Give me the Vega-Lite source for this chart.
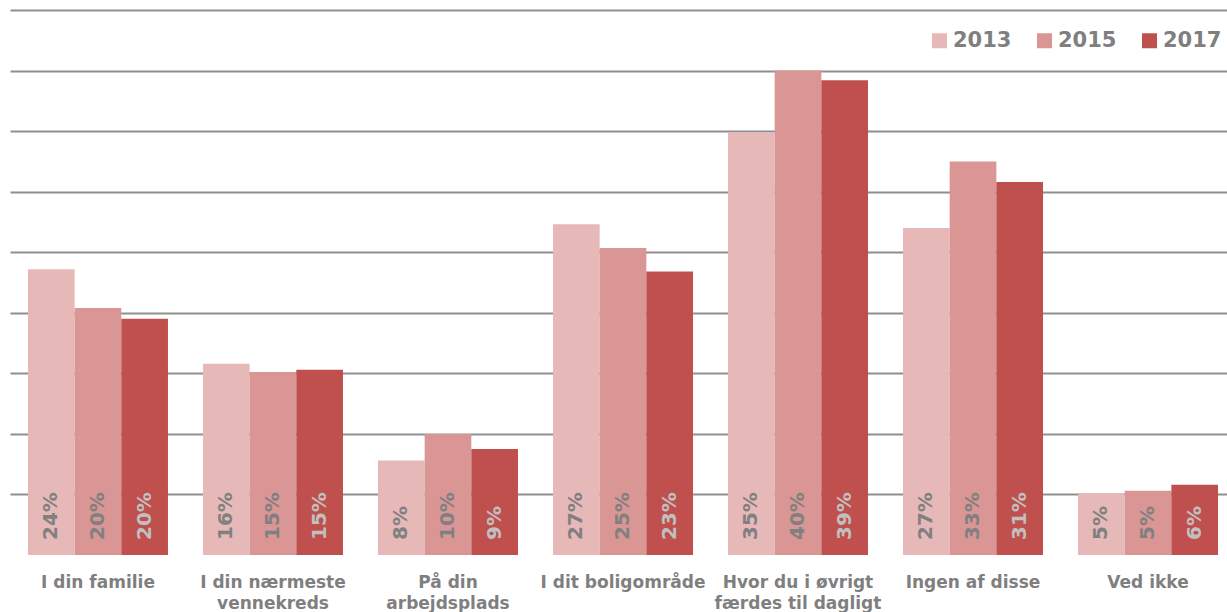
{
  "$schema": "https://vega.github.io/schema/vega-lite/v6.json",
  "width": 1217,
  "height": 545,
  "autosize": {"type": "none"},
  "padding": {"left": 10, "top": 10, "right": 0, "bottom": 57},
  "background": "white",
  "config": {
    "view": {"stroke": null},
    "font": "DejaVu Sans"
  },
  "data": {
    "values": [
      {"cat": "I din familie", "year": "2013", "v": 0.236},
      {"cat": "I din familie", "year": "2015", "v": 0.204},
      {"cat": "I din familie", "year": "2017", "v": 0.195},
      {"cat": "I din nærmeste vennekreds", "year": "2013", "v": 0.158},
      {"cat": "I din nærmeste vennekreds", "year": "2015", "v": 0.151},
      {"cat": "I din nærmeste vennekreds", "year": "2017", "v": 0.153},
      {"cat": "På din arbejdsplads", "year": "2013", "v": 0.078},
      {"cat": "På din arbejdsplads", "year": "2015", "v": 0.100},
      {"cat": "På din arbejdsplads", "year": "2017", "v": 0.0875},
      {"cat": "I dit boligområde", "year": "2013", "v": 0.273},
      {"cat": "I dit boligområde", "year": "2015", "v": 0.2535},
      {"cat": "I dit boligområde", "year": "2017", "v": 0.234},
      {"cat": "Hvor du i øvrigt færdes til dagligt", "year": "2013", "v": 0.349},
      {"cat": "Hvor du i øvrigt færdes til dagligt", "year": "2015", "v": 0.400},
      {"cat": "Hvor du i øvrigt færdes til dagligt", "year": "2017", "v": 0.392},
      {"cat": "Ingen af disse", "year": "2013", "v": 0.270},
      {"cat": "Ingen af disse", "year": "2015", "v": 0.325},
      {"cat": "Ingen af disse", "year": "2017", "v": 0.308},
      {"cat": "Ved ikke", "year": "2013", "v": 0.051},
      {"cat": "Ved ikke", "year": "2015", "v": 0.053},
      {"cat": "Ved ikke", "year": "2017", "v": 0.058}
    ]
  },
  "encoding": {
    "x": {
      "field": "cat",
      "type": "nominal",
      "sort": null,
      "scale": {"paddingInner": 0.2, "paddingOuter": 0.077, "align": 0.667},
      "axis": {
        "title": null,
        "labelAngle": 0,
        "labelFont": "DejaVu Sans",
        "labelFontWeight": "bold",
        "labelFontSize": 17,
        "labelColor": "#7f7f7f",
        "labelPadding": 19,
        "labelLineHeight": 21,
        "labelBaseline": "top",
        "labelExpr": "datum.value == 'I din nærmeste vennekreds' ? ['I din nærmeste', 'vennekreds'] : datum.value == 'På din arbejdsplads' ? ['På din', 'arbejdsplads'] : datum.value == 'Hvor du i øvrigt færdes til dagligt' ? ['Hvor du i øvrigt', 'færdes til dagligt'] : datum.value",
        "ticks": false,
        "domain": false,
        "grid": false
      }
    },
    "xOffset": {"field": "year", "type": "nominal", "scale": {"paddingInner": 0, "paddingOuter": 0}}
  },
  "layer": [
    {
      "mark": {"type": "bar"},
      "encoding": {
        "y": {
          "field": "v",
          "type": "quantitative",
          "scale": {"domain": [0, 0.45], "nice": false},
          "axis": {
            "title": null,
            "labels": false,
            "ticks": false,
            "domain": false,
            "values": [0.05, 0.1, 0.15, 0.2, 0.25, 0.3, 0.35, 0.4, 0.45],
            "grid": true,
            "gridColor": "#8f8f8f",
            "gridWidth": 2
          }
        },
        "color": {
          "field": "year",
          "type": "nominal",
          "scale": {"domain": ["2013", "2015", "2017"], "range": ["#E6B9B8", "#D99694", "#C0504D"]},
          "legend": {
            "title": null,
            "orient": "none",
            "legendX": 919,
            "legendY": 20,
            "direction": "horizontal",
            "symbolType": "square",
            "symbolSize": 225,
            "symbolStrokeWidth": 0,
            "labelFont": "DejaVu Sans",
            "labelFontWeight": "bold",
            "labelFontSize": 21,
            "labelColor": "#7f7f7f",
            "labelOffset": 3,
            "columnPadding": 22
          }
        }
      }
    },
    {
      "mark": {"type": "text", "angle": -90, "align": "left", "baseline": "middle", "dx": 15, "font": "DejaVu Sans", "fontWeight": "bold", "fontSize": 20},
      "encoding": {
        "y": {"datum": 0, "type": "quantitative"},
        "text": {"field": "v", "type": "quantitative", "format": ".0%"},
        "color": {
          "condition": {"test": "datum.year == '2017'", "value": "#c0c0c0"},
          "value": "#808080"
        }
      }
    },
    {
      "mark": {"type": "rule", "color": "#878787", "strokeWidth": 3},
      "encoding": {"y": {"datum": 0, "type": "quantitative"}}
    }
  ]
}
